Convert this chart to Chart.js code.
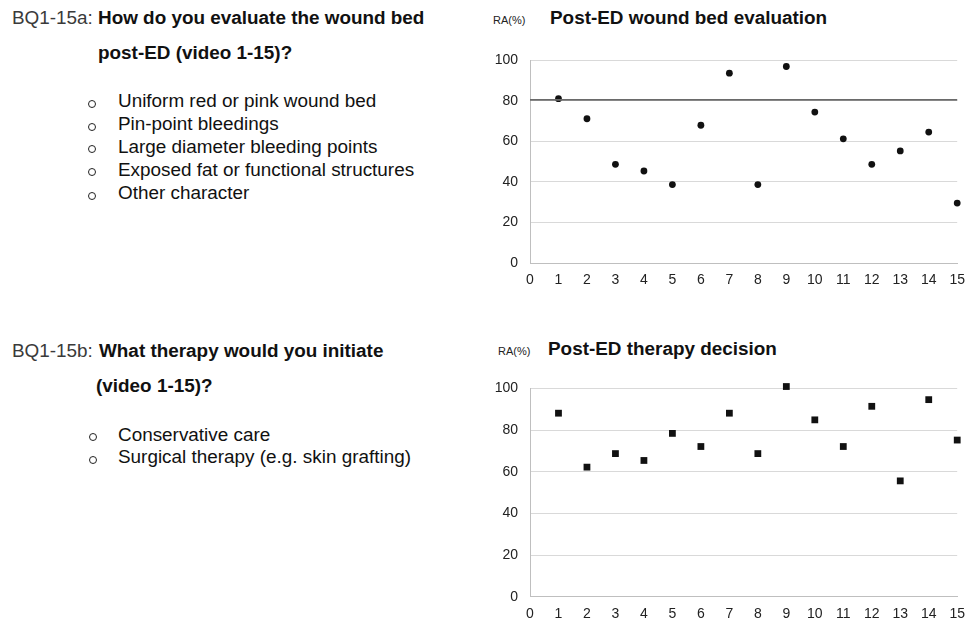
<!DOCTYPE html>
<html>
<head>
<meta charset="utf-8">
<script src="https://cdn.jsdelivr.net/npm/chart.js@4.4.1/dist/chart.umd.min.js"></script>
<style>
  body { margin: 0; width: 974px; height: 624px; background: #fff; position: relative; overflow: hidden;
         font-family: "Liberation Sans", Arial, sans-serif; color: #111; }
  .t { position: absolute; white-space: nowrap; line-height: 1; font-size: 18.9px; }
  .pre { color: #3a3a3a; }
  .b { font-weight: bold; }
  .dot { position: absolute; width: 6px; height: 6px; border: 1.3px solid #222; border-radius: 50%; }
  .ttl { font-weight: bold; font-size: 18.9px; }
  .ra { font-size: 11px; color: #222; }
  .box { position: absolute; }
</style>
</head>
<body>

<!-- question a -->
<div class="t pre" style="left:12px; top:9px;">BQ1-15a:</div>
<div class="t b" style="left:98px; top:9px;">How do you evaluate the wound bed</div>
<div class="t b" style="left:98px; top:44px;">post-ED (video 1-15)?</div>
<div class="dot" style="left:88px; top:100px;"></div>
<div class="t" style="left:118px; top:92.4px;">Uniform red or pink wound bed</div>
<div class="dot" style="left:88px; top:122.7px;"></div>
<div class="t" style="left:118px; top:115.3px;">Pin-point bleedings</div>
<div class="dot" style="left:88px; top:145px;"></div>
<div class="t" style="left:118px; top:138px;">Large diameter bleeding points</div>
<div class="dot" style="left:88px; top:168.3px;"></div>
<div class="t" style="left:118px; top:160.7px;">Exposed fat or functional structures</div>
<div class="dot" style="left:88px; top:191.7px;"></div>
<div class="t" style="left:118px; top:183.7px;">Other character</div>

<!-- question b -->
<div class="t pre" style="left:12px; top:342.4px;">BQ1-15b:</div>
<div class="t b" style="left:99px; top:342.4px;">What therapy would you initiate</div>
<div class="t b" style="left:96px; top:377.4px;">(video 1-15)?</div>
<div class="dot" style="left:88.5px; top:433.3px;"></div>
<div class="t" style="left:118px; top:425.7px;">Conservative care</div>
<div class="dot" style="left:88.5px; top:456px;"></div>
<div class="t" style="left:118px; top:448px;">Surgical therapy (e.g. skin grafting)</div>

<!-- chart titles -->
<div class="t ra" style="left:493px; top:15px;">RA(%)</div>
<div class="t ttl" style="left:550px; top:9px;">Post-ED wound bed evaluation</div>
<div class="t ra" style="left:498px; top:346px;">RA(%)</div>
<div class="t ttl" style="left:548px; top:340px;">Post-ED therapy decision</div>

<div class="box" style="left:480px; top:40px;"><canvas id="chartA" width="494" height="262"></canvas></div>
<div class="box" style="left:480px; top:368px;"><canvas id="chartB" width="494" height="256"></canvas></div>

<script>
// video numbers (x axis)
const videos = [1, 2, 3, 4, 5, 6, 7, 8, 9, 10, 11, 12, 13, 14, 15];
// RA(%) post-ED wound bed evaluation
const woundBedRA = [81.1, 71.2, 48.7, 45.4, 38.7, 68.0, 93.7, 38.7, 97.0, 74.5, 61.3, 48.7, 55.3, 64.6, 29.6];
// RA(%) post-ED therapy decision
const therapyRA = [88.1, 62.2, 68.7, 65.4, 78.4, 72.1, 88.1, 68.7, 100.9, 84.9, 72.1, 91.4, 55.6, 94.6, 75.2];
// reference line in the top chart
const thresholdRA = 80.5;
const xRange = [0, 15];
const yRange = [0, 100];
const yStep = 20;

const tickFont = { family: "'Liberation Sans', Arial, sans-serif", size: 14 };

function makeOptions(xAxisHeight) {
  return {
    responsive: false,
    animation: false,
    layout: { padding: { top: 12, right: 11, left: 0, bottom: 0 } },
    plugins: { legend: { display: false }, tooltip: { enabled: false } },
    scales: {
      x: {
        type: "linear",
        min: xRange[0],
        max: xRange[1],
        ticks: { stepSize: 1, color: "#222", font: tickFont, padding: 9 },
        grid: { display: false, drawTicks: false },
        border: { display: true, color: "#bfbfbf", width: 1 },
        afterFit: (scale) => { scale.height = xAxisHeight; }
      },
      y: {
        min: yRange[0],
        max: yRange[1],
        ticks: { stepSize: yStep, color: "#222", font: tickFont, padding: 12 },
        grid: { color: "#d9d9d9", lineWidth: 1, drawTicks: false },
        border: { display: true, color: "#bfbfbf", width: 1 },
        afterFit: (scale) => { scale.width = 50; }
      }
    }
  };
}

const woundPoints = videos.map((v, i) => ({ x: v, y: woundBedRA[i] }));
const therapyPoints = videos.map((v, i) => ({ x: v, y: therapyRA[i] }));

new Chart(document.getElementById("chartA"), {
  type: "scatter",
  data: {
    datasets: [
      {
        data: xRange.map(x => ({ x: x, y: thresholdRA })),
        showLine: true,
        borderColor: "#6a6a6a",
        borderWidth: 1.6,
        pointRadius: 0,
        clip: false
      },
      {
        data: woundPoints,
        pointStyle: "circle",
        pointRadius: 3.4,
        backgroundColor: "#111",
        borderWidth: 0,
        clip: false
      }
    ]
  },
  options: makeOptions(39)
});

new Chart(document.getElementById("chartB"), {
  type: "scatter",
  data: {
    datasets: [
      {
        data: therapyPoints,
        pointStyle: "rect",
        pointRadius: 4.8,
        backgroundColor: "#111",
        borderWidth: 0,
        clip: false
      }
    ]
  },
  options: makeOptions(27.3)
});
</script>
</body>
</html>
